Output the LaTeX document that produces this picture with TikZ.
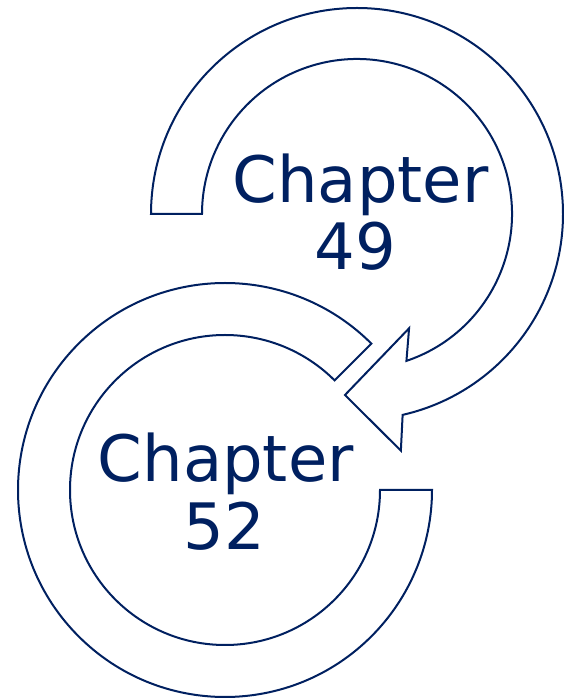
\documentclass[tikz,border=0pt]{standalone}
\usepackage{fontspec}
\setmainfont{DejaVu Sans}
\usetikzlibrary{calc}
\definecolor{navy}{HTML}{002060}
\tikzset{
  arrowshape/.style={draw=navy, fill=white, line width=1.5pt, line join=miter},
  chaptext/.style={text=navy, font=\fontsize{48}{50}\selectfont, inner sep=0pt, anchor=base}
}
\begin{document}
\begin{tikzpicture}[x=0.75pt,y=0.75pt]
\useasboundingbox (0,0) rectangle (564,700);
\coordinate (c1) at (357,486);
\coordinate (c2) at (225,210);
% bottom circular arrow
\draw[arrowshape] ($(c2)+(0:207)$) -- ($(c2)+(0:155)$)
  arc[start angle=0, end angle=-315, radius=155]
  -- ($(c2)+(45:207)$)
  arc[start angle=45, end angle=360, radius=207] -- cycle;
% top circular arrow
\draw[arrowshape] ($(c1)+(180:206)$)
  arc[start angle=180, end angle=-77.2, radius=206]
  -- ($(c1)+(-79.5:240.7)$)
  -- ($(c1)+(-93.8:181.4)$)
  -- ($(c1)+(-65.5:125.6)$)
  -- ($(c1)+(-71.4:155)$)
  arc[start angle=-71.4, end angle=180, radius=155] -- cycle;
\node[chaptext] (t1a) at (360.5,497.3) {Chapter};
\node[chaptext] (t1b) at (355.5,430) {49};
\node[chaptext] (t2a) at (225.8,218.3) {Chapter};
\node[chaptext] (t2b) at (224.5,150) {52};
\end{tikzpicture}
\end{document}
